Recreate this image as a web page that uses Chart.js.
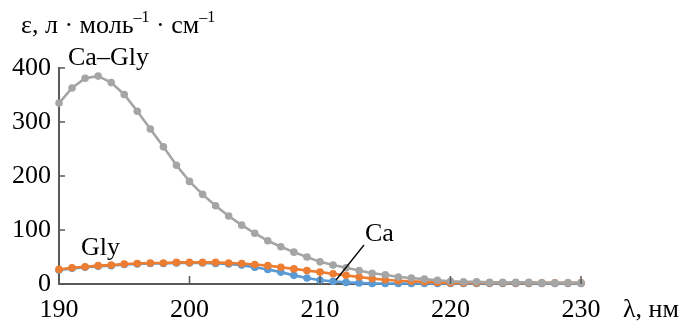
<!DOCTYPE html>
<html>
<head>
<meta charset="utf-8">
<script src="https://cdn.jsdelivr.net/npm/chart.js@4"></script>
<style>
  html, body { margin: 0; padding: 0; background: #fff; }
  #wrap { width: 686px; height: 322px; position: relative; }
</style>
</head>
<body>
<div id="wrap"><canvas id="chart" width="686" height="322"></canvas></div>
<script>
const wavelengths = [190, 191, 192, 193, 194, 195, 196, 197, 198, 199,
                     200, 201, 202, 203, 204, 205, 206, 207, 208, 209,
                     210, 211, 212, 213, 214, 215, 216, 217, 218, 219,
                     220, 221, 222, 223, 224, 225, 226, 227, 228, 229, 230];

const caGly = [335, 363, 381, 385, 373, 351, 320, 287, 254, 220,
               190, 166, 145, 126, 109, 94, 80, 69, 59, 50,
               41, 35, 30, 25, 20, 17, 13, 11, 9, 7,
               5, 4, 4, 3, 3, 3, 3, 2, 2, 2, 2];

const gly = [27, 30, 32, 34, 35, 37, 38, 39, 39, 40,
             40, 40, 40, 39, 38, 36, 34, 31, 28, 25,
             22, 19, 16, 13, 10, 8, 6, 5, 4, 3,
             2, 2, 2, 2, 2, 2, 2, 2, 2, 2, 2];

const ca = [26, 29, 31, 33, 34, 36, 37, 38, 38, 39,
            39, 39, 38, 37, 35, 31, 27, 22, 16, 11,
            7, 5, 3, 2, 1, 1, 1, 1, 1, 1,
            1, 1, 1, 1, 1, 1, 1, 1, 1, 1, 1];

const xTicks = [190, 200, 210, 220, 230];
const yTicks = [0, 100, 200, 300, 400];

const serif = '"Liberation Serif", "DejaVu Serif", serif';
const axisColor = '#595959';

function pts(values) {
    return values.map((v, i) => ({ x: wavelengths[i], y: v }));
}

function series(label, values, color, order) {
    return {
        label: label,
        data: pts(values),
        borderColor: color,
        backgroundColor: color,
        borderWidth: 2.6,
        pointRadius: 3.8,
        pointBorderWidth: 0,
        pointBackgroundColor: color,
        tension: 0,
        clip: false,
        order: order
    };
}

// inward tick marks + annotations
const decor = {
    id: 'decor',
    afterDraw(chart) {
        const ctx = chart.ctx;
        const xs = chart.scales.x, ys = chart.scales.y;
        const area = chart.chartArea;
        ctx.save();
        ctx.strokeStyle = axisColor;
        ctx.lineWidth = 1.5;
        ctx.beginPath();
        for (const t of xTicks) {
            const px = xs.getPixelForValue(t);
            ctx.moveTo(px, area.bottom);
            ctx.lineTo(px, area.bottom - 8);
        }
        for (const t of yTicks) {
            const py = ys.getPixelForValue(t);
            ctx.moveTo(area.left, py);
            ctx.lineTo(area.left + 6, py);
        }
        ctx.stroke();

        ctx.fillStyle = '#000';
        ctx.textBaseline = 'alphabetic';
        ctx.textAlign = 'left';
        ctx.font = '26px ' + serif;
        ctx.fillText('Ca–Gly', 68, 65);
        ctx.fillText('Gly', 81, 255);
        ctx.fillText('Ca', 365, 241);
        ctx.fillText('λ, нм', 623, 317);

        // leader line for Ca
        ctx.strokeStyle = '#000';
        ctx.lineWidth = 1.3;
        ctx.beginPath();
        ctx.moveTo(364, 245);
        ctx.lineTo(336, 280);
        ctx.stroke();

        // y-axis title with superscripts
        let x = 21;
        const base = 33;
        const parts = [
            ['ε, л · моль', false],
            ['–1', true],
            [' · см', false],
            ['–1', true]
        ];
        for (const [txt, sup] of parts) {
            ctx.font = (sup ? '16px ' : '26px ') + serif;
            ctx.fillText(txt, x, sup ? base - 11 : base);
            x += ctx.measureText(txt).width;
        }
        ctx.restore();
    }
};

new Chart(document.getElementById('chart'), {
    type: 'line',
    data: {
        datasets: [
            series('Ca–Gly', caGly, '#a5a5a5', 1),
            series('Gly', gly, '#ed7d31', 2),
            series('Ca', ca, '#5b9bd5', 3)
        ]
    },
    options: {
        responsive: false,
        animation: false,
        events: [],
        layout: { padding: { left: 0, top: 68, right: 105, bottom: 0 } },
        plugins: { legend: { display: false }, tooltip: { enabled: false } },
        scales: {
            x: {
                type: 'linear',
                min: 190,
                max: 230,
                afterFit: s => { s.height = 38; },
                afterBuildTicks: s => { s.ticks = xTicks.map(v => ({ value: v })); },
                grid: { display: false, drawTicks: false },
                border: { display: true, color: axisColor, width: 2 },
                ticks: {
                    color: '#000',
                    font: { family: serif, size: 26 },
                    padding: 11,
                    maxRotation: 0
                }
            },
            y: {
                min: 0,
                max: 400,
                afterFit: s => { s.width = 59; },
                afterBuildTicks: s => { s.ticks = yTicks.map(v => ({ value: v })); },
                grid: { display: false, drawTicks: false },
                border: { display: true, color: axisColor, width: 2 },
                ticks: {
                    color: '#000',
                    font: { family: serif, size: 26 },
                    padding: 8
                }
            }
        }
    },
    plugins: [decor]
});
</script>
</body>
</html>
